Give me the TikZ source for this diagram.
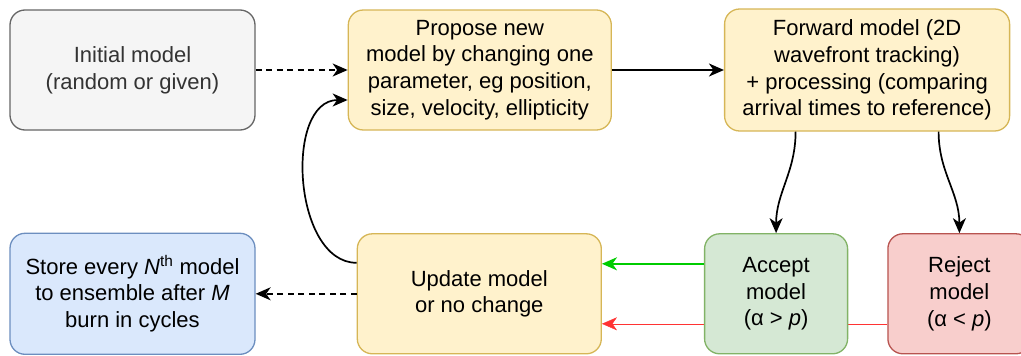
\documentclass[tikz,border=0pt]{standalone}
\usepackage{fontspec}
\setmainfont{Liberation Sans}
\usepackage{tikz}
\usetikzlibrary{positioning}
\usetikzlibrary{arrows.meta,backgrounds}

\definecolor{grayfill}{HTML}{F5F5F5}
\definecolor{graydraw}{HTML}{666666}
\definecolor{graytext}{HTML}{333333}
\definecolor{yelfill}{HTML}{FFF2CC}
\definecolor{yeldraw}{HTML}{D6B656}
\definecolor{bluefill}{HTML}{DAE8FC}
\definecolor{bluedraw}{HTML}{6C8EBF}
\definecolor{grnfill}{HTML}{D5E8D4}
\definecolor{grndraw}{HTML}{82B366}
\definecolor{redfill}{HTML}{F8CECC}
\definecolor{reddraw}{HTML}{B85450}
\definecolor{grnline}{HTML}{00CC00}
\definecolor{redline}{HTML}{FF3333}

\begin{document}
\begin{tikzpicture}[x=1pt,y=-1pt,->,>={Stealth[length=15pt,width=13pt,inset=4.5pt]},line width=1.7pt,
  box/.style={rectangle,rounded corners=15pt,line width=1.3pt,align=center,inner sep=2pt,
    font=\fontsize{22}{26.7}\selectfont},
  dash line/.style={dash pattern=on 6pt off 4.5pt}]
  \useasboundingbox (0,0) rectangle (1021,356);
  \node[box,fill=grayfill,draw=graydraw,text=graytext,minimum width=245pt,minimum height=120pt] (I) at (132.5,70)
    {Initial model\\(random or given)};
  \node[box,fill=yelfill,draw=yeldraw,minimum width=263pt,minimum height=120pt] (P) [right=92pt of I]
    {Propose new\\model by changing one\\parameter, eg position,\\size, velocity, ellipticity};
  \node[box,fill=yelfill,draw=yeldraw,minimum width=285pt,minimum height=122pt] (F) [right=112pt of P]
    {Forward model (2D\\wavefront tracking)\\+ processing (comparing\\arrival times to reference)};
  \node[box,fill=bluefill,draw=bluedraw,minimum width=245pt,minimum height=121pt] (S) [below=102pt of I]
    {Store every \textit{N}\textsuperscript{th} model\\to ensemble after \textit{M}\\burn in cycles};
  \node[box,fill=yelfill,draw=yeldraw,minimum width=244pt,minimum height=120pt] (U) [right=101pt of S]
    {Update model\\or no change};
  \node[box,fill=grnfill,draw=grndraw,minimum width=143pt,minimum height=120pt] (Acc) [right=102pt of U]
    {Accept\\model\\(α > \textit{p})};
  \node[box,fill=redfill,draw=reddraw,minimum width=143pt,minimum height=120pt] (Rej) [right=39pt of Acc]
    {Reject\\model\\(α < \textit{p})};

\path (I) edge[dash line] (P)
      (P.east) edge (P.east -| F.west)
      (U) edge[dash line] (S);
\draw ([yshift=31pt]U.west) to[out=180,in=180] ([yshift=-30pt]P.west);
\draw ([xshift=-71.5pt]F.south) to[out=-90,in=90] (Acc.north);
\draw ([xshift=71.5pt]F.south) to[out=-90,in=90] (Rej.north);
\draw[grnline] ([yshift=30pt]Acc.west) -- ([yshift=30pt]Acc.west -| U.east);
\begin{pgfonlayer}{background}
  \draw[redline] ([yshift=-30pt]Rej.west) -- ([yshift=-30pt]Rej.west -| U.east);
\end{pgfonlayer}
\end{tikzpicture}
\end{document}
